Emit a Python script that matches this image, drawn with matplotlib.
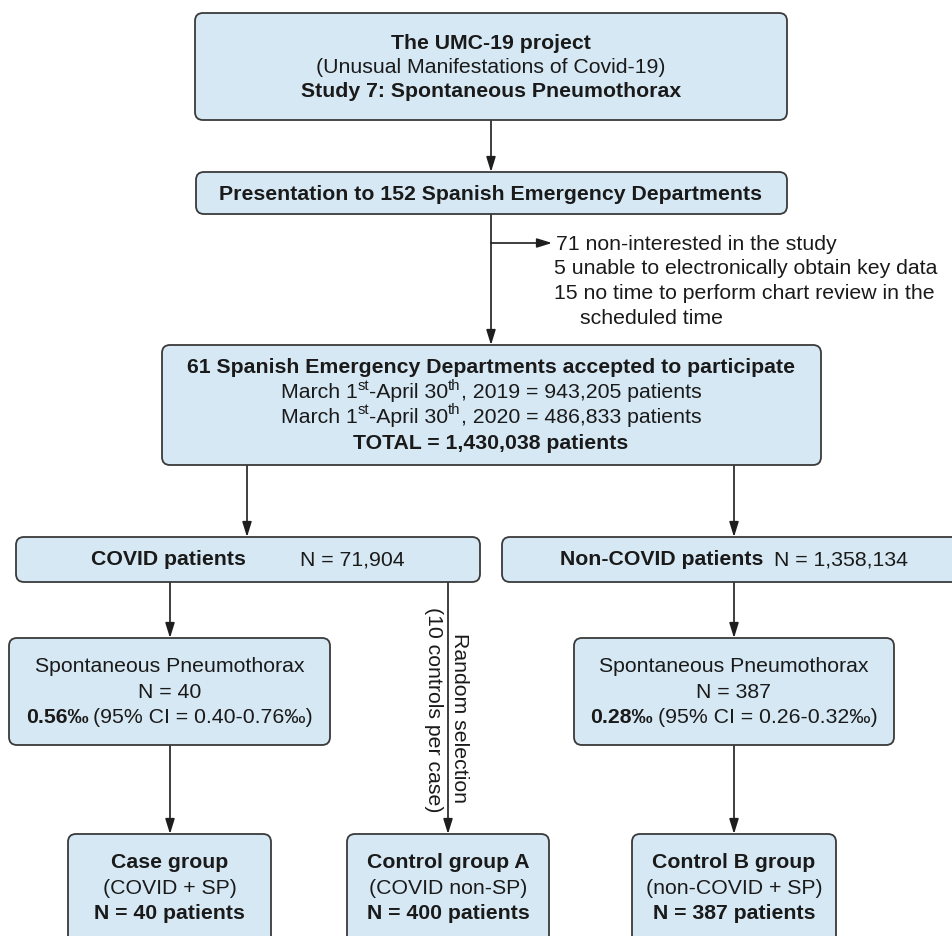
import matplotlib
matplotlib.use('Agg')
from matplotlib import pyplot as plt
from matplotlib.patches import FancyBboxPatch

plt.rcParams['font.family'] = ['Liberation Sans', 'DejaVu Sans']

# text content of the flow chart
project_lines = ['The UMC-19 project', '(Unusual Manifestations of Covid-19)',
                 'Study 7: Spontaneous Pneumothorax']
presentation = 'Presentation to 152 Spanish Emergency Departments'
excluded = ['71 non-interested in the study',
            '5 unable to electronically obtain key data',
            '15 no time to perform chart review in the',
            'scheduled time']
accepted_title = '61 Spanish Emergency Departments accepted to participate'
years = ['2019', '2020']
year_patients = ['943,205', '486,833']
total_patients = '1,430,038'
covid_n = '71,904'
noncovid_n = '1,358,134'
sp_n = ['40', '387']
sp_rate = ['0.56‰', '0.28‰']
sp_ci = ['0.40-0.76‰', '0.26-0.32‰']
random_sel = ['Random selection', '(10 controls per case)']
groups = ['Case group', 'Control group A', 'Control B group']
group_sub = ['(COVID + SP)', '(COVID non-SP)', '(non-COVID + SP)']
group_n = ['40', '400', '387']

FILL = '#d6e8f4'
EDGE = '#3a3a3a'
ARROW = '#1e1e1e'
FS = 15.3
DY = -1.5  # nudge for baseline-centred text

fig = plt.figure(figsize=(9.53, 9.36), dpi=100)
ax = fig.add_axes([0, 0, 1, 1])
ax.set_xlim(0, 953)
ax.set_ylim(936, 0)
ax.axis('off')
renderer = fig.canvas.get_renderer()


def box(x0, y0, x1, y1):
    p = FancyBboxPatch((x0, y0), x1 - x0, y1 - y0,
                       boxstyle='round,pad=0,rounding_size=8',
                       fc=FILL, ec=EDGE, lw=1.3, zorder=2)
    ax.add_patch(p)


def txt(x, y, s, bold=False, size=FS, **kw):
    kw.setdefault('ha', 'center')
    kw.setdefault('va', 'center_baseline')
    if kw['va'] != 'center':
        y = y + DY
    return ax.text(x, y, s, fontsize=size, fontweight='bold' if bold else 'normal',
                   color='#1a1a1a', zorder=3, **kw)


def runs(xc, y, parts):
    # parts: list of (string, bold, superscript, gap after) centred as one line
    items = []
    for s, b, sup, gap in parts:
        if sup:
            t = txt(0, y - 1, s, bold=b, size=FS * 0.7, ha='left', va='baseline')
        else:
            t = txt(0, y, s, bold=b, ha='left')
        w = t.get_window_extent(renderer).width
        items.append((t, w, gap))
    total = sum(w + g for t, w, g in items)
    x = xc - total / 2
    for t, w, g in items:
        t.set_x(x)
        x += w + g


def arrow(x0, y0, x1, y1):
    ax.annotate('', xy=(x1, y1), xytext=(x0, y0),
                arrowprops=dict(arrowstyle='-|>,head_width=0.28,head_length=0.9',
                                color=ARROW, lw=1.2, shrinkA=0, shrinkB=0),
                zorder=1)


# top box
box(195, 13, 787, 120)
txt(491, 43, project_lines[0], bold=True)
txt(491, 67, project_lines[1])
txt(491, 91, project_lines[2], bold=True)
arrow(491, 120, 491, 172)

# presentation box
box(196, 172, 787, 214)
txt(491, 194, presentation, bold=True)
arrow(491, 214, 491, 345)
arrow(491, 243, 552, 243)
txt(556, 244, excluded[0], ha='left')
txt(554, 268, excluded[1], ha='left')
txt(554, 293, excluded[2], ha='left')
txt(580, 318, excluded[3], ha='left')

# accepted box
box(162, 345, 821, 465)
txt(491, 367, accepted_title, bold=True)
for i in range(2):
    runs(491, 392 + 25 * i,
         [('March 1', False, False, 0), ('st', False, True, 0),
          ('-April 30', False, False, 0), ('th', False, True, 0),
          (', ' + years[i] + ' = ' + year_patients[i] + ' patients', False, False, 0)])
txt(491, 443, 'TOTAL = ' + total_patients + ' patients', bold=True)
arrow(247, 465, 247, 537)
arrow(734, 465, 734, 537)

# COVID / non-COVID boxes
box(16, 537, 480, 582)
txt(168, 559, 'COVID patients', bold=True)
txt(300, 559, 'N = ' + covid_n, ha='left')
box(502, 537, 975, 582)
runs(734, 559, [('Non-COVID patients', True, False, 10),
                ('N = ' + noncovid_n, False, False, 0)])

# spontaneous pneumothorax boxes
sp_boxes = [(9, 330), (574, 894)]
sp_cx = [170, 734]
for i in range(2):
    x0, x1 = sp_boxes[i]
    arrow(sp_cx[i], 582, sp_cx[i], 638)
    box(x0, 638, x1, 745)
    xc = (x0 + x1) / 2
    txt(xc, 666, 'Spontaneous Pneumothorax')
    txt(xc, 692, 'N = ' + sp_n[i])
    runs(xc, 717, [(sp_rate[i], True, False, 5),
                   ('(95% CI = ' + sp_ci[i] + ')', False, False, 0)])

# random selection line
arrow(448, 582, 448, 834)
txt(460, 718, random_sel[0], rotation=-90, va='center')
txt(434, 710, random_sel[1], rotation=-90, va='center')

# bottom group boxes
g_boxes = [(68, 271), (347, 549), (632, 836)]
g_arrow = [170, 448, 734]
for i in range(3):
    x0, x1 = g_boxes[i]
    if i != 1:
        arrow(g_arrow[i], 745, g_arrow[i], 834)
    box(x0, 834, x1, 960)
    xc = (x0 + x1) / 2
    txt(xc, 862, groups[i], bold=True)
    txt(xc, 888, group_sub[i])
    txt(xc, 913, 'N = ' + group_n[i] + ' patients', bold=True)

fig.savefig('out.png', dpi=100, facecolor='white')
